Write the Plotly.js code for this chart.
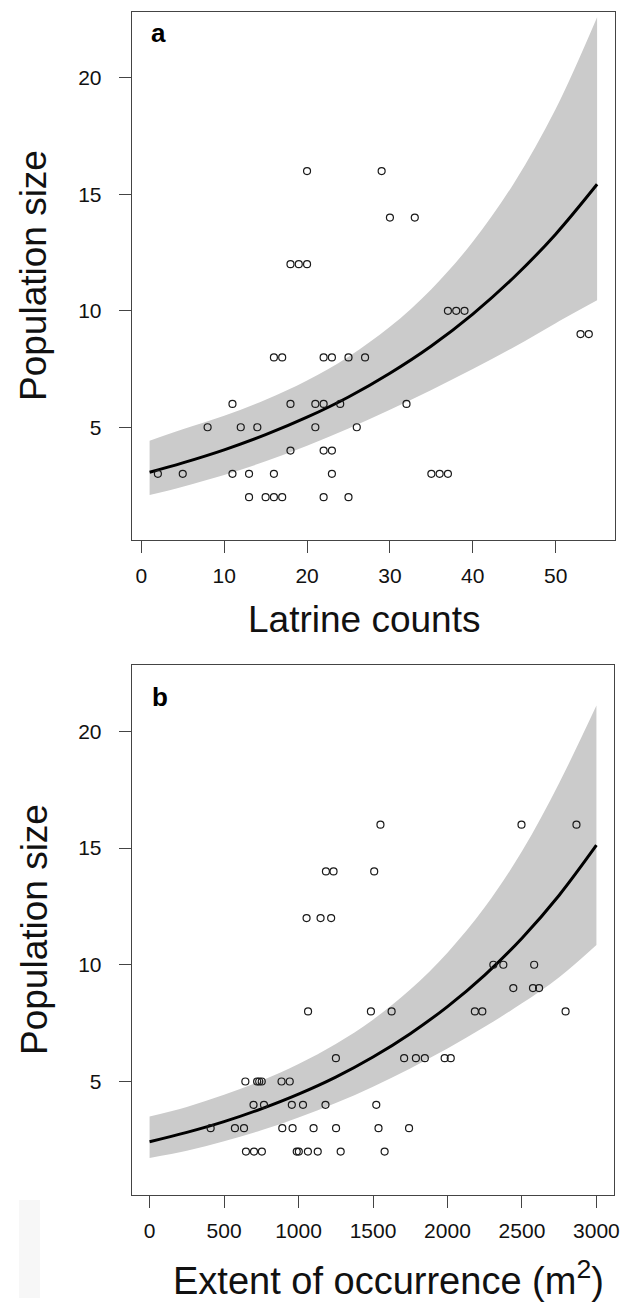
<!DOCTYPE html>
<html>
<head>
<meta charset="utf-8">
<script src="https://cdn.plot.ly/plotly-3.0.1.min.js"></script>
<style>html,body{margin:0;padding:0;background:#fff;}#chart{width:629px;height:1302px;}</style>
</head>
<body>
<div id="chart"></div>
<script>
// ---- Panel a: latrine counts vs population size ----
var latrineCounts = [20, 29, 30, 33, 18, 19, 20, 37, 38, 39, 53, 54,
  16, 17, 22, 23, 25, 27, 11, 18, 21, 22, 24, 32,
  8, 12, 14, 21, 26, 18, 22, 23,
  2, 5, 11, 13, 16, 23, 35, 36, 37,
  13, 15, 16, 17, 22, 25];
var popSizeA = [16, 16, 14, 14, 12, 12, 12, 10, 10, 10, 9, 9,
  8, 8, 8, 8, 8, 8, 6, 6, 6, 6, 6, 6,
  5, 5, 5, 5, 5, 4, 4, 4,
  3, 3, 3, 3, 3, 3, 3, 3, 3,
  2, 2, 2, 2, 2, 2];
var fitXA = [1, 5, 10, 15, 20, 25, 30, 35, 40, 45, 50, 55];
var fitYA = [3.07, 3.47, 4.03, 4.68, 5.43, 6.30, 7.32, 8.49, 9.86, 11.45, 13.29, 15.43];
var upperA = [4.42, 4.91, 5.49, 6.18, 7.01, 8.03, 9.31, 10.93, 12.96, 15.50, 18.66, 22.60];
var lowerA = [2.09, 2.45, 2.95, 3.54, 4.21, 4.95, 5.75, 6.60, 7.50, 8.45, 9.47, 10.45];

// ---- Panel b: extent of occurrence vs population size ----
var extent = [1550, 2497, 2866, 1184, 1235, 1508, 1054, 1148, 1219,
  2308, 2375, 2582, 2442, 2574, 2615,
  1064, 1486, 1625, 2184, 2234, 2793,
  1251, 1709, 1788, 1848, 1981, 2022,
  643, 722, 736, 753, 886, 941,
  698, 768, 955, 1030, 1181, 1522,
  410, 573, 634, 891, 960, 1101, 1252, 1537, 1742,
  647, 701, 754, 988, 1002, 1063, 1129, 1283, 1578];
var popSizeB = [16, 16, 16, 14, 14, 14, 12, 12, 12,
  10, 10, 10, 9, 9, 9,
  8, 8, 8, 8, 8, 8,
  6, 6, 6, 6, 6, 6,
  5, 5, 5, 5, 5, 5,
  4, 4, 4, 4, 4, 4,
  3, 3, 3, 3, 3, 3, 3, 3, 3,
  2, 2, 2, 2, 2, 2, 2, 2, 2];
var fitXB = [0, 250, 500, 750, 1000, 1250, 1500, 1750, 2000, 2250, 2500, 2750, 3000];
var fitYB = [2.42, 2.82, 3.28, 3.83, 4.46, 5.19, 6.05, 7.05, 8.21, 9.56, 11.14, 12.98, 15.12];
var upperB = [3.50, 3.91, 4.43, 5.03, 5.75, 6.61, 7.65, 8.94, 10.52, 12.46, 14.86, 17.79, 21.10];
var lowerB = [1.72, 2.03, 2.44, 2.91, 3.46, 4.08, 4.78, 5.56, 6.41, 7.34, 8.35, 9.47, 10.85];

// ---- axis tick labels ----
var xTicksA = [0, 10, 20, 30, 40, 50];
var xTicksB = [0, 500, 1000, 1500, 2000, 2500, 3000];
var yTicks = [5, 10, 15, 20];

var W = 629, H = 1302;
function px(x) { return x / W; }
function py(y) { return (H - y) / H; }

var bandColor = '#cbcbcb';
var ptMarker = {symbol: 'circle-open', size: 7, color: '#1a1a1a', line: {width: 1.2, color: '#1a1a1a'}};

function panelTraces(fx, lo, up, fy, sx, sy, xa, ya) {
  return [
    {x: fx, y: lo, xaxis: xa, yaxis: ya, type: 'scatter', mode: 'lines',
     line: {width: 0, shape: 'spline', color: bandColor}, hoverinfo: 'skip', showlegend: false},
    {x: fx, y: up, xaxis: xa, yaxis: ya, type: 'scatter', mode: 'lines', fill: 'tonexty',
     fillcolor: bandColor, line: {width: 0, shape: 'spline', color: bandColor}, hoverinfo: 'skip', showlegend: false},
    {x: fx, y: fy, xaxis: xa, yaxis: ya, type: 'scatter', mode: 'lines',
     line: {width: 3, shape: 'spline', color: '#000'}, showlegend: false},
    {x: sx, y: sy, xaxis: xa, yaxis: ya, type: 'scatter', mode: 'markers',
     marker: ptMarker, showlegend: false}
  ];
}

var data = panelTraces(fitXA, lowerA, upperA, fitYA, latrineCounts, popSizeA, 'x', 'y')
  .concat(panelTraces(fitXB, lowerB, upperB, fitYB, extent, popSizeB, 'x2', 'y2'));

var tickFont = {family: 'Liberation Sans, Arial, sans-serif', size: 21, color: '#111'};
function axisBase(standoff) {
  return {showline: true, mirror: true, linecolor: '#444', linewidth: 1,
    ticks: 'outside', ticklen: 12, tickwidth: 1, tickcolor: '#444',
    tickfont: tickFont, showgrid: false, zeroline: false, ticklabelstandoff: standoff, fixedrange: true};
}

var xa = axisBase(5); xa.domain = [px(131.7), px(615)]; xa.range = [-1.16, 57.16]; xa.tickvals = xTicksA; xa.anchor = 'y';
var ya = axisBase(13); ya.domain = [py(540), py(11.7)]; ya.range = [0.16, 22.84]; ya.tickvals = yTicks; ya.anchor = 'x';
var xb = axisBase(5); xb.domain = [px(131.7), px(614.3)]; xb.range = [-120, 3120]; xb.tickvals = xTicksB; xb.anchor = 'y2';
var yb = axisBase(13); yb.domain = [py(1194.5), py(665)]; yb.range = [0.16, 22.84]; yb.tickvals = yTicks; yb.anchor = 'x2';

var titleFont = {family: 'Liberation Sans, Arial, sans-serif', size: 37, color: '#111'};
var titleFontB = {family: 'Liberation Sans, Arial, sans-serif', size: 38, color: '#111'};
var labFont = {family: 'Liberation Sans, Arial, sans-serif', size: 26, color: '#000'};

var layout = {
  width: W, height: H, autosize: false,
  margin: {l: 0, r: 0, t: 0, b: 0},
  paper_bgcolor: '#fff', plot_bgcolor: '#fff',
  showlegend: false,
  xaxis: xa, yaxis: ya, xaxis2: xb, yaxis2: yb,
  shapes: [
    {type: 'rect', xref: 'paper', yref: 'paper', x0: px(19), x1: px(40), y0: py(1298), y1: py(1200),
     fillcolor: '#f7f7f7', line: {width: 0}, layer: 'below'}
  ],
  annotations: [
    {text: '<b>a</b>', xref: 'paper', yref: 'paper', x: px(158.5), y: py(33), xanchor: 'center', yanchor: 'middle', showarrow: false, font: labFont},
    {text: '<b>b</b>', xref: 'paper', yref: 'paper', x: px(159.5), y: py(696.5), xanchor: 'center', yanchor: 'middle', showarrow: false, font: labFont},
    {text: 'Latrine counts', xref: 'paper', yref: 'paper', x: px(364), y: py(619), xanchor: 'center', yanchor: 'middle', showarrow: false, font: titleFont},
    {text: 'Extent of occurrence (m<sup>2</sup>)', xref: 'paper', yref: 'paper', x: px(388), y: py(1278), xanchor: 'center', yanchor: 'middle', showarrow: false, font: titleFontB},
    {text: 'Population size', xref: 'paper', yref: 'paper', x: px(34), y: py(276), xanchor: 'center', yanchor: 'middle', textangle: -90, showarrow: false, font: titleFont},
    {text: 'Population size', xref: 'paper', yref: 'paper', x: px(34), y: py(930), xanchor: 'center', yanchor: 'middle', textangle: -90, showarrow: false, font: titleFont}
  ]
};

Plotly.newPlot('chart', data, layout, {displayModeBar: false, staticPlot: true});
</script>
</body>
</html>
